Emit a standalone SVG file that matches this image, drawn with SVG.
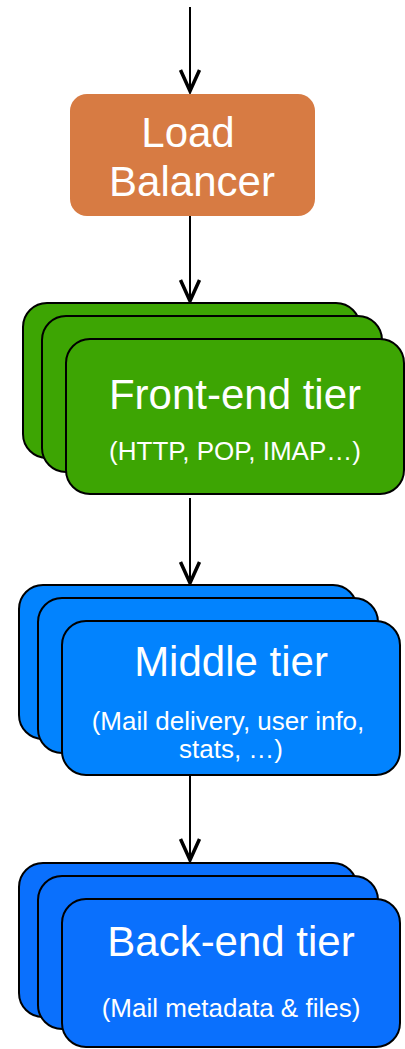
<svg xmlns="http://www.w3.org/2000/svg" width="405" height="1049" viewBox="0 0 405 1049">
  <style>
    .card { stroke: #000; stroke-width: 2; }
    .lb { fill: #D77B43; }
    .green { fill: #3DA503; }
    .blue1 { fill: #0283FE; }
    .blue2 { fill: #0A70FD; }
    .title { font-family: "Liberation Sans", Arial, sans-serif; font-size: 42px; fill: #fff; text-anchor: middle; }
    .sub { font-family: "Liberation Sans", Arial, sans-serif; font-size: 26px; fill: #fff; text-anchor: middle; }
    .edge { stroke: #000; stroke-width: 2; fill: none; }
  </style>
  <defs>
    <marker id="arrow" markerUnits="userSpaceOnUse" markerWidth="26" markerHeight="24" refX="24" refY="12" orient="auto" viewBox="0 0 26 24">
      <path d="M2,2.5 L23,12 L2,21.5" fill="none" stroke="#000" stroke-width="3.5"/>
    </marker>
  </defs>
  <g id="connectors">
    <path class="edge" d="M190,7 V92" marker-end="url(#arrow)"/>
    <path class="edge" d="M190,216 V302" marker-end="url(#arrow)"/>
    <path class="edge" d="M190,498 V584" marker-end="url(#arrow)"/>
    <path class="edge" d="M190,776 V861" marker-end="url(#arrow)"/>
  </g>
  <g id="load-balancer">
    <rect class="lb" x="70" y="94" width="245" height="122" rx="17"/>
    <text class="title" x="188" y="147">Load</text>
    <text class="title" x="192" y="196">Balancer</text>
  </g>
  <g id="front-end-tier">
    <rect class="card green" x="23" y="303" width="337" height="155" rx="24"/>
    <rect class="card green" x="42" y="316" width="340" height="156" rx="24"/>
    <rect class="card green" x="66" y="339" width="338" height="155" rx="24"/>
    <text class="title" x="235" y="409">Front-end tier</text>
    <text class="sub" x="235" y="460">(HTTP, POP, IMAP…)</text>
  </g>
  <g id="middle-tier">
    <rect class="card blue1" x="19" y="585" width="338" height="154" rx="24"/>
    <rect class="card blue1" x="38" y="598" width="340" height="155" rx="24"/>
    <rect class="card blue1" x="62" y="621" width="338" height="154" rx="24"/>
    <text class="title" x="231" y="676">Middle tier</text>
    <text class="sub" x="228" y="730">(Mail delivery, user info,</text>
    <text class="sub" x="231" y="758">stats, …)</text>
  </g>
  <g id="back-end-tier">
    <rect class="card blue2" x="19" y="863" width="338" height="154" rx="24"/>
    <rect class="card blue2" x="38" y="876" width="340" height="153" rx="24"/>
    <rect class="card blue2" x="62" y="899" width="338" height="148" rx="24"/>
    <text class="title" x="231" y="956">Back-end tier</text>
    <text class="sub" x="231" y="1017">(Mail metadata &amp; files)</text>
  </g>
</svg>
